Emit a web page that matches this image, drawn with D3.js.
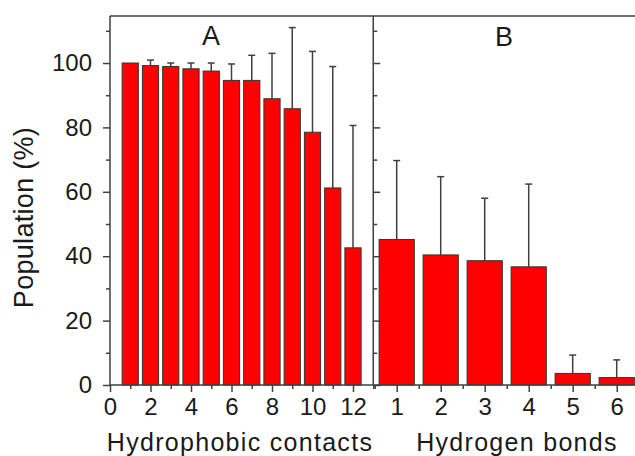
<!DOCTYPE html>
<html><head><meta charset="utf-8">
<script src="https://cdn.jsdelivr.net/npm/d3@7"></script>
<style>
html,body{margin:0;padding:0;background:#fff;}
svg{display:block;font-family:"Liberation Sans",Arial,sans-serif;}
</style></head>
<body>
<svg id="c" width="635" height="456"></svg>
<script>
// ---- data ----
const hydroCats = [1,2,3,4,5,6,7,8,9,10,11,12];
const hydroVals = [100, 99.2, 98.9, 98.2, 97.5, 94.6, 94.6, 88.9, 85.8, 78.5, 61.2, 42.6];
const hydroErr  = [0, 1.7, 1.1, 1.8, 2.5, 5.1, 7.8, 14.1, 25.2, 25.1, 37.7, 38.0];
const hbondCats = [1,2,3,4,5,6];
const hbondVals = [45.2, 40.4, 38.6, 36.7, 3.6, 2.3];
const hbondErr  = [24.5, 24.3, 19.4, 25.7, 5.7, 5.5];
const yTicks = [0,20,40,60,80,100];
const yMinor = [10,30,50,70,90,110];
const hydroTicks = [0,2,4,6,8,10,12];
const hydroMinor = [1,3,5,7,9,11,13];
const hbondTicks = [1,2,3,4,5,6];
const hbondMinor = [0.5,1.5,2.5,3.5,4.5,5.5];
const panelLabels = ["A","B"];
const xTitles = ["Hydrophobic contacts","Hydrogen bonds"];
const yTitle = "Population (%)";

// ---- layout ----
const svg = d3.select("#c");
const y = d3.scaleLinear().domain([0,114.6]).range([385,16]);
const xA = d3.scaleLinear().domain([0,13]).range([110,373.25]);
const xB = d3.scaleLinear().domain([1,6]).range([396.7,616.7]);
const barW = 0.8;
const lineCol = "#404040", textCol = "#1a1a1a";

function bars(g, x, cats, vals, errs){
  const w = x(barW) - x(0);
  cats.forEach((c,i)=>{
    if(errs[i] <= 0) return;
    const cx = x(c);
    g.append("line").attr("x1",cx).attr("x2",cx).attr("y1",y(vals[i])).attr("y2",y(vals[i]+errs[i]))
      .attr("stroke",lineCol).attr("stroke-width",1.5);
    g.append("line").attr("x1",cx-3.5).attr("x2",cx+3.5).attr("y1",y(vals[i]+errs[i])).attr("y2",y(vals[i]+errs[i]))
      .attr("stroke",lineCol).attr("stroke-width",1.5);
  });
  g.selectAll("rect.bar").data(cats).enter().append("rect").attr("class","bar")
    .attr("x",d=>x(d)-w/2).attr("width",w)
    .attr("y",(d,i)=>y(vals[i])).attr("height",(d,i)=>y(0)-y(vals[i]))
    .attr("fill","#ff0000").attr("stroke","#333").attr("stroke-width",1);
}
bars(svg.append("g"), xA, hydroCats, hydroVals, hydroErr);
bars(svg.append("g"), xB, hbondCats, hbondVals, hbondErr);

// frame
const frame = svg.append("g").attr("stroke",lineCol).attr("stroke-width",1.5).attr("fill","none");
frame.append("line").attr("x1",110).attr("x2",635).attr("y1",y(0)).attr("y2",y(0));
frame.append("line").attr("x1",110).attr("x2",635).attr("y1",y.range()[1]).attr("y2",y.range()[1]);
frame.append("line").attr("x1",110).attr("x2",110).attr("y1",y(0)).attr("y2",y.range()[1]);
frame.append("line").attr("x1",373.25).attr("x2",373.25).attr("y1",y(0)).attr("y2",y.range()[1]);

svg.append("g").attr("transform","translate(110,0)")
  .call(d3.axisLeft(y).tickValues(yTicks).tickSize(7).tickPadding(11).tickFormat(d3.format("d")));
svg.append("g").attr("transform","translate(110,0)")
  .call(d3.axisLeft(y).tickValues(yMinor).tickSize(4).tickFormat(""));
svg.append("g").attr("transform","translate(373.25,0)")
  .call(d3.axisRight(y).tickValues(yTicks).tickSize(7).tickFormat(""));
svg.append("g").attr("transform","translate(373.25,0)")
  .call(d3.axisRight(y).tickValues(yMinor).tickSize(4).tickFormat(""));

svg.append("g").attr("transform",`translate(0,${y(0)})`)
  .call(d3.axisBottom(xA).tickValues(hydroTicks).tickSize(7).tickPadding(6).tickFormat(d3.format("d")));
svg.append("g").attr("transform",`translate(0,${y(0)})`)
  .call(d3.axisBottom(xA).tickValues(hydroMinor).tickSize(4).tickFormat(""));
svg.append("g").attr("transform",`translate(0,${y(0)})`)
  .call(d3.axisBottom(xB).tickValues(hbondTicks).tickSize(7).tickPadding(6).tickFormat(d3.format("d")));
svg.append("g").attr("transform",`translate(0,${y(0)})`)
  .call(d3.axisBottom(xB).tickValues(hbondMinor).tickSize(4).tickFormat(""));

svg.selectAll(".domain").remove();
svg.selectAll(".tick line").attr("stroke",lineCol).attr("stroke-width",1.5);
svg.selectAll(".tick text").attr("fill",textCol).style("font-size","24px");

svg.append("text").attr("x",211).attr("y",45).attr("text-anchor","middle")
  .attr("fill",textCol).style("font-size","27px").text(panelLabels[0]);
svg.append("text").attr("x",504).attr("y",46).attr("text-anchor","middle")
  .attr("fill",textCol).style("font-size","27px").text(panelLabels[1]);

svg.append("text").attr("x",240).attr("y",451).attr("text-anchor","middle")
  .attr("fill",textCol).style("font-size","25px").style("letter-spacing","1.3px").text(xTitles[0]);
svg.append("text").attr("x",517).attr("y",451).attr("text-anchor","middle")
  .attr("fill",textCol).style("font-size","25px").style("letter-spacing","1.3px").text(xTitles[1]);
svg.append("text").attr("transform","translate(33,217.5) rotate(-90)").attr("text-anchor","middle")
  .attr("fill",textCol).style("font-size","27px").style("letter-spacing","0.3px").text(yTitle);
</script>
</body></html>
